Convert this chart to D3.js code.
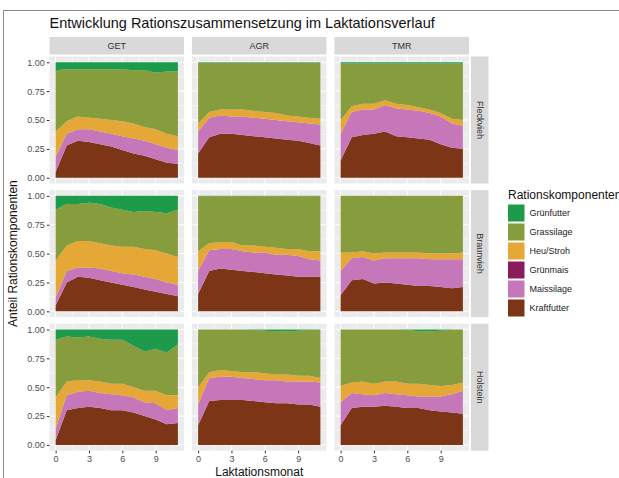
<!DOCTYPE html>
<html>
<head>
<meta charset="utf-8">
<script src="https://cdn.jsdelivr.net/npm/d3@7"></script>
<style>
  body { margin: 0; background: #fff; }
  svg { display: block; font-family: "Liberation Sans", Arial, Helvetica, sans-serif; }
</style>
</head>
<body>
<svg id="chart" width="619" height="478"></svg>
<script>
// categories
const months = [0, 1, 2, 3, 4, 5, 6, 7, 8, 9, 10, 11];
const systems = ["GET", "AGR", "TMR"];
const breeds = ["Fleckvieh", "Braunvieh", "Holstein"];
const components = ["Grünfutter", "Grassilage", "Heu/Stroh", "Grünmais", "Maissilage", "Kraftfutter"];
const compColors = ["#1d9a4a", "#869c3d", "#e5a736", "#8a1c5c", "#c577b9", "#7c3517"];
const yTicks = [0, 0.25, 0.5, 0.75, 1];
const xTicks = [0, 3, 6, 9];

// shares per panel, order: GET/AGR/TMR x Fleckvieh, Braunvieh, Holstein
const kraftfutter = [
  [0.05,0.28,0.32,0.31,0.29,0.27,0.24,0.21,0.19,0.16,0.13,0.12],
  [0.21,0.35,0.38,0.38,0.37,0.36,0.35,0.34,0.33,0.32,0.30,0.28],
  [0.15,0.35,0.37,0.38,0.40,0.36,0.35,0.34,0.33,0.29,0.26,0.25],
  [0.05,0.25,0.30,0.29,0.27,0.25,0.23,0.21,0.19,0.17,0.15,0.13],
  [0.15,0.35,0.37,0.36,0.35,0.34,0.33,0.32,0.31,0.30,0.30,0.30],
  [0.14,0.27,0.28,0.24,0.25,0.24,0.23,0.22,0.22,0.21,0.20,0.21],
  [0.04,0.30,0.32,0.33,0.32,0.30,0.30,0.28,0.25,0.22,0.18,0.19],
  [0.17,0.38,0.39,0.39,0.39,0.38,0.37,0.36,0.36,0.35,0.35,0.33],
  [0.17,0.32,0.33,0.33,0.34,0.33,0.32,0.32,0.30,0.29,0.28,0.27]
];
const maissilage = [
  [0.13,0.10,0.10,0.11,0.11,0.11,0.12,0.13,0.13,0.13,0.13,0.12],
  [0.19,0.17,0.16,0.15,0.16,0.16,0.16,0.16,0.16,0.16,0.17,0.18],
  [0.23,0.22,0.22,0.21,0.23,0.24,0.24,0.24,0.23,0.24,0.21,0.20],
  [0.07,0.10,0.08,0.09,0.10,0.10,0.10,0.11,0.11,0.11,0.10,0.10],
  [0.20,0.18,0.17,0.18,0.17,0.17,0.18,0.17,0.18,0.18,0.15,0.14],
  [0.21,0.19,0.19,0.20,0.21,0.22,0.23,0.24,0.23,0.24,0.25,0.24],
  [0.10,0.13,0.14,0.14,0.13,0.14,0.13,0.13,0.12,0.14,0.12,0.13],
  [0.18,0.20,0.20,0.20,0.19,0.19,0.19,0.20,0.19,0.20,0.20,0.21],
  [0.20,0.13,0.11,0.10,0.11,0.11,0.11,0.10,0.12,0.13,0.16,0.20]
];
const gruenmais = [
  [0,0,0,0,0,0,0,0,0,0,0,0],
  [0,0,0,0,0,0,0,0,0,0,0,0],
  [0,0,0,0,0,0,0,0,0,0,0,0],
  [0,0,0,0,0,0,0,0,0,0,0,0],
  [0,0,0,0,0,0,0,0,0,0,0,0],
  [0,0,0,0,0,0,0,0,0,0,0,0],
  [0,0,0,0,0,0,0,0,0,0,0,0],
  [0,0,0,0,0,0,0,0,0,0,0,0],
  [0,0,0,0,0,0,0,0,0,0,0,0]
];
const heuStroh = [
  [0.22,0.11,0.11,0.10,0.11,0.12,0.13,0.13,0.12,0.13,0.12,0.12],
  [0.07,0.05,0.05,0.06,0.06,0.06,0.06,0.06,0.05,0.05,0.05,0.05],
  [0.12,0.05,0.05,0.05,0.04,0.04,0.04,0.03,0.03,0.03,0.04,0.05],
  [0.32,0.22,0.23,0.23,0.22,0.22,0.23,0.24,0.24,0.25,0.25,0.24],
  [0.17,0.06,0.06,0.06,0.05,0.06,0.05,0.06,0.05,0.06,0.07,0.08],
  [0.16,0.05,0.05,0.06,0.05,0.05,0.05,0.05,0.05,0.05,0.05,0.06],
  [0.27,0.12,0.10,0.09,0.10,0.09,0.10,0.09,0.10,0.11,0.13,0.11],
  [0.15,0.05,0.06,0.05,0.05,0.06,0.06,0.05,0.06,0.05,0.05,0.04],
  [0.14,0.09,0.11,0.10,0.10,0.11,0.10,0.11,0.10,0.09,0.08,0.07]
];
const grassilage = [
  [0.53,0.45,0.41,0.42,0.43,0.44,0.45,0.46,0.49,0.49,0.54,0.56],
  [0.525,0.425,0.405,0.405,0.405,0.415,0.425,0.435,0.455,0.465,0.475,0.485],
  [0.49,0.37,0.35,0.35,0.32,0.35,0.36,0.38,0.40,0.43,0.48,0.49],
  [0.44,0.36,0.32,0.33,0.34,0.33,0.32,0.30,0.33,0.33,0.35,0.41],
  [0.477,0.407,0.397,0.397,0.427,0.427,0.437,0.447,0.457,0.457,0.477,0.477],
  [0.49,0.49,0.48,0.50,0.49,0.49,0.49,0.49,0.50,0.50,0.50,0.49],
  [0.50,0.39,0.37,0.38,0.37,0.38,0.38,0.36,0.34,0.36,0.37,0.44],
  [0.498,0.368,0.348,0.358,0.368,0.365,0.37,0.375,0.375,0.39,0.395,0.418],
  [0.488,0.458,0.448,0.468,0.448,0.448,0.465,0.455,0.465,0.48,0.477,0.458]
];
const gruenfutter = [
  [0.07,0.06,0.06,0.06,0.06,0.06,0.06,0.07,0.07,0.09,0.08,0.08],
  [0.005,0.005,0.005,0.005,0.005,0.005,0.005,0.005,0.005,0.005,0.005,0.005],
  [0.01,0.01,0.01,0.01,0.01,0.01,0.01,0.01,0.01,0.01,0.01,0.01],
  [0.12,0.07,0.07,0.06,0.07,0.10,0.12,0.14,0.13,0.14,0.15,0.12],
  [0.003,0.003,0.003,0.003,0.003,0.003,0.003,0.003,0.003,0.003,0.003,0.003],
  [0,0,0,0,0,0,0,0,0,0,0,0],
  [0.09,0.06,0.07,0.06,0.08,0.09,0.09,0.14,0.19,0.17,0.20,0.13],
  [0.002,0.002,0.002,0.002,0.002,0.005,0.01,0.015,0.015,0.01,0.005,0.002],
  [0.002,0.002,0.002,0.002,0.002,0.002,0.005,0.015,0.015,0.01,0.003,0.002]
];

const seriesByComp = {
  "Grünfutter": gruenfutter, "Grassilage": grassilage, "Heu/Stroh": heuStroh,
  "Grünmais": gruenmais, "Maissilage": maissilage, "Kraftfutter": kraftfutter
};
const colorScale = d3.scaleOrdinal().domain(components).range(compColors);
// stacked bottom to top
const stackKeys = components.slice().reverse();

// layout
const panelLeft = 49.5, panelW = 134.5, gapX = 8;
const panelTop = 56.5, panelH = 127, gapY = 6.6;
const stripH = 17.5;

const svg = d3.select("#chart");

// frame of the screenshot
svg.append("path").attr("d", "M3.5,478V10.5H619")
  .attr("fill", "none").attr("stroke", "#8a8a8a").attr("stroke-width", 1);

svg.append("text").attr("x", 49.5).attr("y", 28)
  .attr("font-size", 14.5).attr("fill", "#111")
  .text("Entwicklung Rationszusammensetzung im Laktationsverlauf");

const stack = d3.stack().keys(stackKeys);

breeds.forEach((breed, r) => {
  systems.forEach((sys, c) => {
    const p = r * 3 + c;
    const x0 = panelLeft + c * (panelW + gapX);
    const y0 = panelTop + r * (panelH + gapY);
    const x = d3.scaleLinear().domain([-0.55, 11.55]).range([x0, x0 + panelW]);
    const y = d3.scaleLinear().domain([-0.05, 1.05]).range([y0 + panelH, y0]);

    const g = svg.append("g");
    g.append("rect").attr("x", x0).attr("y", y0).attr("width", panelW).attr("height", panelH)
      .attr("fill", "#ebebeb");
    // grid
    [0.125, 0.375, 0.625, 0.875].forEach(v => g.append("line")
      .attr("x1", x0).attr("x2", x0 + panelW).attr("y1", y(v)).attr("y2", y(v))
      .attr("stroke", "#fff").attr("stroke-width", 0.5));
    [1.5, 4.5, 7.5, 10.5].forEach(v => g.append("line")
      .attr("y1", y0).attr("y2", y0 + panelH).attr("x1", x(v)).attr("x2", x(v))
      .attr("stroke", "#fff").attr("stroke-width", 0.5));
    yTicks.forEach(v => g.append("line")
      .attr("x1", x0).attr("x2", x0 + panelW).attr("y1", y(v)).attr("y2", y(v))
      .attr("stroke", "#fff").attr("stroke-width", 1));
    xTicks.forEach(v => g.append("line")
      .attr("y1", y0).attr("y2", y0 + panelH).attr("x1", x(v)).attr("x2", x(v))
      .attr("stroke", "#fff").attr("stroke-width", 1));

    const table = months.map((m, i) => {
      const row = { month: m };
      components.forEach(k => { row[k] = seriesByComp[k][p][i]; });
      return row;
    });
    const area = d3.area()
      .x(d => x(d.data.month))
      .y0(d => y(d[0]))
      .y1(d => y(Math.min(d[1], 1)));
    g.selectAll("path.layer").data(stack(table)).join("path")
      .attr("class", "layer")
      .attr("d", area)
      .attr("fill", d => colorScale(d.key));

    // column strip
    if (r === 0) {
      svg.append("rect").attr("x", x0).attr("y", y0 - 2 - stripH).attr("width", panelW).attr("height", stripH)
        .attr("fill", "#d9d9d9");
      svg.append("text").attr("x", x0 + panelW / 2).attr("y", y0 - 2 - stripH / 2)
        .attr("text-anchor", "middle").attr("dominant-baseline", "central")
        .attr("font-size", 9).attr("fill", "#333").text(sys);
    }
    // row strip
    if (c === 2) {
      const sx = x0 + panelW + 2;
      svg.append("rect").attr("x", sx).attr("y", y0).attr("width", stripH).attr("height", panelH)
        .attr("fill", "#d9d9d9");
      svg.append("text")
        .attr("transform", `translate(${sx + stripH / 2},${y0 + panelH / 2}) rotate(90)`)
        .attr("text-anchor", "middle").attr("dominant-baseline", "central")
        .attr("font-size", 9).attr("fill", "#333").text(breed);
    }
    // y axis
    if (c === 0) {
      const ax = svg.append("g").attr("transform", `translate(${x0},0)`)
        .call(d3.axisLeft(y).tickValues(yTicks).tickFormat(d3.format(".2f")).tickSizeOuter(0).tickSize(2.7).tickPadding(2));
      ax.select(".domain").remove();
      ax.selectAll("line").attr("stroke", "#333");
      ax.selectAll("text").attr("font-size", 9).attr("fill", "#4d4d4d")
        .attr("font-family", "Liberation Sans, Arial, sans-serif");
    }
    // x axis
    if (r === 2) {
      const ax = svg.append("g").attr("transform", `translate(0,${y0 + panelH})`)
        .call(d3.axisBottom(x).tickValues(xTicks).tickSizeOuter(0).tickSize(2.7).tickPadding(2));
      ax.select(".domain").remove();
      ax.selectAll("line").attr("stroke", "#333");
      ax.selectAll("text").attr("font-size", 9).attr("fill", "#4d4d4d")
        .attr("font-family", "Liberation Sans, Arial, sans-serif");
    }
  });
});

// axis titles
const gridBottom = panelTop + 3 * panelH + 2 * gapY;
svg.append("text")
  .attr("transform", `translate(13,${(panelTop + gridBottom) / 2}) rotate(-90)`)
  .attr("text-anchor", "middle").attr("dominant-baseline", "central")
  .attr("font-size", 12).attr("fill", "#111").text("Anteil Rationskomponenten");
svg.append("text")
  .attr("x", panelLeft + (3 * panelW + 2 * gapX) / 2).attr("y", 476)
  .attr("text-anchor", "middle").attr("font-size", 12).attr("fill", "#111")
  .text("Laktationsmonat");

// legend
const lg = svg.append("g").attr("transform", "translate(508,0)");
lg.append("text").attr("x", 0).attr("y", 199).attr("font-size", 12).attr("fill", "#111")
  .text("Rationskomponenten");
components.forEach((k, i) => {
  lg.append("rect").attr("x", 0).attr("y", 204.5 + i * 19).attr("width", 16.5).attr("height", 17)
    .attr("fill", colorScale(k));
  lg.append("text").attr("x", 21.5).attr("y", 213 + i * 19)
    .attr("dominant-baseline", "central").attr("font-size", 9).attr("fill", "#222").text(k);
});
</script>
</body>
</html>
